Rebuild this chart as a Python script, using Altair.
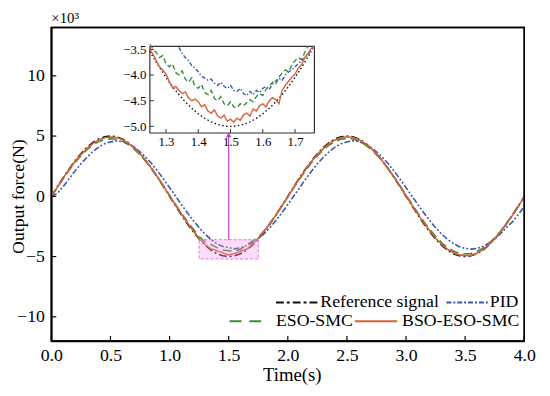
import altair as alt
import pandas as pd

FONT = "Liberation Serif"

# ---------------- data (output force in 10^3 N) ----------------
t_main = [round(0.05 * i, 2) for i in range(81)]

ref_main = [0.00, 0.78, 1.55, 2.27, 2.94, 3.54, 4.05, 4.46, 4.76, 4.94, 5.00, 4.94, 4.76, 4.46, 4.05, 3.54, 2.94, 2.27, 1.55, 0.78, 0.00,
            -0.78, -1.55, -2.27, -2.94, -3.54, -4.05, -4.46, -4.76, -4.94, -5.00, -4.94, -4.76, -4.46, -4.05, -3.54, -2.94, -2.27, -1.55, -0.78, 0.00,
            0.78, 1.55, 2.27, 2.94, 3.54, 4.05, 4.46, 4.76, 4.94, 5.00, 4.94, 4.76, 4.46, 4.05, 3.54, 2.94, 2.27, 1.55, 0.78, 0.00,
            -0.78, -1.55, -2.27, -2.94, -3.54, -4.05, -4.46, -4.76, -4.94, -5.00, -4.94, -4.76, -4.46, -4.05, -3.54, -2.94, -2.27, -1.55, -0.78, 0.00]

pid_main = [0.00, 0.25, 0.80, 1.45, 2.10, 2.70, 3.22, 3.70, 4.08, 4.36, 4.52, 4.60, 4.54, 4.36, 4.08, 3.70, 3.24, 2.70, 2.08, 1.42, 0.72,
            0.02, -0.68, -1.36, -2.00, -2.60, -3.14, -3.58, -3.94, -4.16, -4.25, -4.36, -4.28, -4.08, -3.86, -3.52, -3.10, -2.58, -2.00, -1.36, -0.68,
            0.02, 0.72, 1.42, 2.08, 2.70, 3.24, 3.70, 4.08, 4.36, 4.52, 4.60, 4.54, 4.36, 4.08, 3.70, 3.24, 2.70, 2.08, 1.42, 0.72,
            0.02, -0.68, -1.36, -2.00, -2.60, -3.12, -3.56, -3.92, -4.18, -4.32, -4.38, -4.32, -4.16, -3.90, -3.54, -3.10, -2.58, -2.12, -1.50, -0.85]

eso_main = [0.00, 0.70, 1.46, 2.16, 2.80, 3.37, 3.86, 4.25, 4.54, 4.72, 4.78, 4.74, 4.58, 4.30, 3.92, 3.44, 2.88, 2.24, 1.56, 0.84, 0.08,
            -0.66, -1.40, -2.08, -2.72, -3.34, -3.78, -4.00, -4.26, -4.46, -4.52, -4.54, -4.40, -4.04, -3.72, -3.40, -2.86, -2.22, -1.52, -0.80, -0.06,
            0.70, 1.44, 2.14, 2.78, 3.36, 3.86, 4.26, 4.56, 4.74, 4.80, 4.76, 4.60, 4.32, 3.94, 3.46, 2.90, 2.26, 1.58, 0.86, 0.10,
            -0.64, -1.38, -2.08, -2.74, -3.32, -3.84, -4.24, -4.54, -4.72, -4.78, -4.74, -4.58, -4.30, -3.92, -3.44, -2.88, -2.24, -1.56, -0.84, -0.10]

bso_main = [0.00, 0.74, 1.50, 2.22, 2.88, 3.46, 3.96, 4.38, 4.68, 4.86, 4.92, 4.88, 4.72, 4.42, 4.02, 3.52, 2.94, 2.28, 1.58, 0.82, 0.04,
            -0.72, -1.48, -2.20, -2.86, -3.50, -3.98, -4.36, -4.52, -4.68, -4.86, -4.74, -4.56, -4.40, -3.98, -3.48, -2.90, -2.26, -1.56, -0.80, -0.02,
            0.74, 1.50, 2.22, 2.88, 3.46, 3.96, 4.38, 4.68, 4.86, 4.94, 4.88, 4.72, 4.42, 4.02, 3.52, 2.94, 2.28, 1.58, 0.82, 0.04,
            -0.72, -1.48, -2.20, -2.86, -3.46, -3.98, -4.38, -4.68, -4.86, -4.92, -4.88, -4.72, -4.42, -4.02, -3.52, -2.94, -2.28, -1.58, -0.82, -0.04]

# zoomed window, t = 1.25 ... 1.76 s, step 0.01
t_inset = [round(1.25 + 0.01 * i, 2) for i in range(52)]

ref_inset = [-3.536, -3.645, -3.751, -3.853, -3.950, -4.045, -4.135, -4.221, -4.302, -4.380, -4.455, -4.523, -4.587,
             -4.647, -4.702, -4.755, -4.800, -4.843, -4.880, -4.911, -4.938, -4.961, -4.978, -4.990, -4.998, -5.000,
             -4.998, -4.990, -4.978, -4.961, -4.938, -4.911, -4.880, -4.843, -4.800, -4.755, -4.702, -4.647, -4.587,
             -4.523, -4.455, -4.380, -4.302, -4.221, -4.135, -4.045, -3.950, -3.853, -3.751, -3.645, -3.536]

pid_inset = [-3.46, -3.58, -3.66, -3.72, -3.82, -3.86, -3.94, -4.02, -4.06, -4.10, -4.08, -4.16, -4.20, -4.14, -4.22,
             -4.26, -4.20, -4.30, -4.32, -4.26, -4.36, -4.40, -4.32, -4.38, -4.30, -4.34, -4.26, -4.22, -4.28, -4.18,
             -4.12, -4.06, -4.10, -4.00, -3.94, -3.90, -3.84, -3.78, -3.72, -3.66, -3.60, -3.52, -3.44]

eso_inset = [-3.40, -3.50, -3.56, -3.66, -3.62, -3.78, -3.84, -3.78, -3.95, -4.00, -3.92, -4.08, -4.14, -4.05, -4.22,
             -4.26, -4.18, -4.34, -4.38, -4.30, -4.46, -4.50, -4.42, -4.56, -4.60, -4.52, -4.62, -4.64, -4.56, -4.60,
             -4.54, -4.48, -4.52, -4.42, -4.36, -4.40, -4.28, -4.22, -4.14, -4.18, -4.04, -3.96, -3.90, -3.94, -3.80,
             -3.72, -3.66, -3.70, -3.56, -3.44]

bso_inset = [-3.50, -3.60, -3.72, -3.84, -3.90, -3.98, -4.12, -4.25, -4.22, -4.30, -4.36, -4.33, -4.45, -4.50, -4.47,
             -4.52, -4.62, -4.58, -4.70, -4.74, -4.68, -4.80, -4.84, -4.78, -4.90, -4.86, -4.92, -4.84, -4.88, -4.78,
             -4.74, -4.80, -4.66, -4.70, -4.60, -4.56, -4.62, -4.50, -4.44, -4.48, -4.56, -4.30, -4.20, -4.12, -4.04,
             -3.98, -3.86, -3.80, -3.66, -3.58, -3.48, -3.44]

inset_start = [0, 9, 0, 0]   # index in t_inset where each zoomed series begins

series_names = ["Reference signal", "PID", "ESO-SMC", "BSO-ESO-SMC"]

x_ticks_main = [0.0, 0.5, 1.0, 1.5, 2.0, 2.5, 3.0, 3.5, 4.0]
y_ticks_main = [-10, -5, 0, 5, 10]
x_ticks_inset = [1.3, 1.4, 1.5, 1.6, 1.7]
y_ticks_inset = [-5.0, -4.5, -4.0, -3.5]

zoom_box_t = [1.25, 1.75]
zoom_box_v = [-5.2, -3.6]
arrow_t = [1.5]
arrow_v = [-3.6, 5.1]
arrow_head_v = [5.1]
inset_x_domain = [1.25, 1.76]
inset_y_domain = [-5.13, -3.44]

# ---------------- styles ----------------
colors = ["#111111", "#3b56a6", "#3a8c3a", "#d8603a"]
main_dash = [[8, 3, 2, 3], [6, 2, 2, 2, 2, 2], [9, 5], None]
inset_dash = [[1.5, 2.5], [4, 2, 1.5, 2], [5, 3], None]
legend_dash = [[8, 3, 3, 3], [5, 2, 2, 2], [12, 8], None]

W, H = 480, 318
TXT = dict(labelFont=FONT, titleFont=FONT, labelColor="black", titleColor="black", titleFontWeight="normal")


def XM():
    return alt.Scale(domain=[0, 4], nice=False, zero=False)


def YM():
    return alt.Scale(domain=[-12, 14], nice=False, zero=False)


def XI():
    return alt.Scale(domain=inset_x_domain, range=[100, 267], nice=False, zero=False)


def YI():
    return alt.Scale(domain=inset_y_domain, range=[107, 19], nice=False, zero=False)


ax_x_main = alt.Axis(orient="bottom", values=x_ticks_main, format=".1f", title="Time(s)", ticks=False, grid=False,
                     labelPadding=6, labelFontSize=18, titleFontSize=19, titleY=25, titleX=244,
                     titleBaseline="top", labelFlush=False, labelOverlap=False,
                     domainColor="black", domainWidth=1.5, **TXT)
ax_y_main = alt.Axis(orient="left", values=y_ticks_main, format="d", title="Output force(N)", ticks=False, grid=False,
                     labelPadding=7, labelFontSize=18, titleFontSize=18, titleX=-24, titleY=171,
                     labelFlush=False, labelOverlap=False, domainColor="black", domainWidth=1.5, **TXT)
ax_x_inset = alt.Axis(orient="bottom", offset=107 - H, values=x_ticks_inset, format=".1f", title=None,
                      ticks=False, domain=False, grid=False, labelPadding=3, labelFontSize=13,
                      labelFlush=False, labelOverlap=False, zindex=1, **TXT)
ax_y_inset = alt.Axis(orient="left", offset=-100, values=y_ticks_inset, format=".1f", title=None,
                      ticks=False, domain=False, grid=False, labelPadding=4, labelFontSize=13,
                      labelFlush=False, labelOverlap=False, zindex=1, **TXT)

layers = []

# ---------------- main panel ----------------
for i, (name, vals, col, dash) in enumerate(zip(series_names, [ref_main, pid_main, eso_main, bso_main], colors, main_dash)):
    kw = dict(color=col, strokeWidth=1.6)
    if dash:
        kw["strokeDash"] = dash
    df = pd.DataFrame({"t": t_main, "v": vals})
    layers.append(alt.Chart(df).mark_line(**kw).encode(
        x=alt.X("t:Q", scale=XM(), axis=ax_x_main if i == 0 else None),
        y=alt.Y("v:Q", scale=YM(), axis=ax_y_main if i == 0 else None)))

box_df = pd.DataFrame({"t0": [zoom_box_t[0]], "t1": [zoom_box_t[1]], "v0": [zoom_box_v[0]], "v1": [zoom_box_v[1]]})
layers.append(alt.Chart(box_df).mark_rect(fill="#f59ae6", fillOpacity=0.35, stroke="#e07ad6",
                                          strokeDash=[3, 2], strokeWidth=1).encode(
    x=alt.X("t0:Q", scale=XM(), axis=None), x2="t1:Q",
    y=alt.Y("v0:Q", scale=YM(), axis=None), y2="v1:Q"))

arrow_df = pd.DataFrame({"t": arrow_t, "v0": [arrow_v[0]], "v1": [arrow_v[1]]})
layers.append(alt.Chart(arrow_df).mark_rule(color="#c23fc2", strokeWidth=1.2).encode(
    x=alt.X("t:Q", scale=XM(), axis=None),
    y=alt.Y("v0:Q", scale=YM(), axis=None), y2="v1:Q"))
head_df = pd.DataFrame({"t": arrow_t, "v": arrow_head_v})
layers.append(alt.Chart(head_df).mark_point(shape="triangle-up", filled=True, size=30,
                                            color="#c23fc2", opacity=1).encode(
    x=alt.X("t:Q", scale=XM(), axis=None), y=alt.Y("v:Q", scale=YM(), axis=None)))

# inward ticks
layers.append(alt.Chart(pd.DataFrame({"t": x_ticks_main})).mark_rule(color="black", strokeWidth=1.2).encode(
    x=alt.X("t:Q", scale=XM(), axis=None), y=alt.value(H), y2=alt.value(H - 5)))
layers.append(alt.Chart(pd.DataFrame({"v": y_ticks_main})).mark_rule(color="black", strokeWidth=1.2).encode(
    y=alt.Y("v:Q", scale=YM(), axis=None), x=alt.value(0), x2=alt.value(5)))

# plot frame
layers.append(alt.Chart(pd.DataFrame({"k": [0]})).mark_rect(fillOpacity=0, stroke="black", strokeWidth=1.5).encode(
    x=alt.value(0), x2=alt.value(W), y=alt.value(0), y2=alt.value(H)))

# multiplier label
layers.append(alt.Chart(pd.DataFrame({"s": ["×10³"]})).mark_text(
    font=FONT, fontSize=15, align="left", baseline="middle", color="black").encode(
    text="s:N", x=alt.value(0), y=alt.value(-10)))

# legend (two right-aligned rows)
leg_sym = [(228, 270, 279), (401, 443, 279), (181, 220, 298), (308, 351, 298)]
leg_txt = [(273, 279), (445, 279), (228, 298), (356, 298)]
for name, col, dash, (x0, x1, yy), (tx, ty) in zip(series_names, colors, legend_dash, leg_sym, leg_txt):
    kw = dict(color=col, strokeWidth=2)
    if dash:
        kw["strokeDash"] = dash
    ldf = pd.DataFrame({"label": [name]})
    layers.append(alt.Chart(ldf).mark_rule(**kw).encode(
        x=alt.value(x0), x2=alt.value(x1), y=alt.value(yy)))
    layers.append(alt.Chart(ldf).mark_text(font=FONT, fontSize=18, align="left", baseline="middle",
                                           color="black").encode(
        text="label:N", x=alt.value(tx), y=alt.value(ty)))

# ---------------- inset ----------------
frame_df = pd.DataFrame({"t0": [inset_x_domain[0]], "t1": [inset_x_domain[1]],
                         "v0": [inset_y_domain[0]], "v1": [inset_y_domain[1]]})
layers.append(alt.Chart(frame_df).mark_rect(fill="white", stroke="#333333", strokeWidth=1.2).encode(
    x=alt.X("t0:Q", scale=XI(), axis=ax_x_inset), x2="t1:Q",
    y=alt.Y("v0:Q", scale=YI(), axis=ax_y_inset), y2="v1:Q"))

for vals, st, col, dash in zip([ref_inset, pid_inset, eso_inset, bso_inset], inset_start, colors, inset_dash):
    kw = dict(color=col, strokeWidth=1.4)
    if dash:
        kw["strokeDash"] = dash
    df = pd.DataFrame({"t": t_inset[st:st + len(vals)], "v": vals})
    layers.append(alt.Chart(df).mark_line(**kw).encode(
        x=alt.X("t:Q", scale=XI(), axis=None),
        y=alt.Y("v:Q", scale=YI(), axis=None)))

layers.append(alt.Chart(pd.DataFrame({"t": x_ticks_inset})).mark_rule(color="#333333", strokeWidth=1).encode(
    x=alt.X("t:Q", scale=XI(), axis=None), y=alt.value(107), y2=alt.value(103)))
layers.append(alt.Chart(pd.DataFrame({"v": y_ticks_inset})).mark_rule(color="#333333", strokeWidth=1).encode(
    y=alt.Y("v:Q", scale=YI(), axis=None), x=alt.value(100), x2=alt.value(104)))

chart = alt.layer(*layers).resolve_scale(x="independent", y="independent").properties(
    width=W, height=H,
    background="white",
    autosize=alt.AutoSizeParams(type="none"),
    padding={"left": 44, "top": 17, "right": 18, "bottom": 53},
).configure_view(stroke="black", strokeWidth=1.5)

chart.save("out.html", embed_options={"renderer": "svg", "actions": False})
